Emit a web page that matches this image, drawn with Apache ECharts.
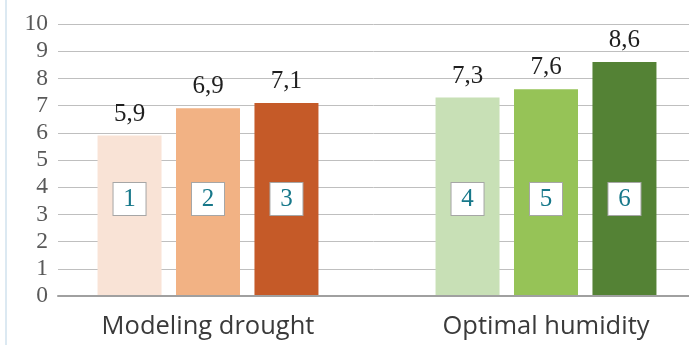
<!DOCTYPE html>
<html>
<head>
<meta charset="utf-8">
<script src="https://cdn.jsdelivr.net/npm/echarts@6/dist/echarts.min.js"></script>
<style>
  html, body { margin: 0; padding: 0; background: #fff; }
  #chart { width: 689px; height: 345px; }
</style>
</head>
<body>
<div id="chart"></div>
<script>
// Soil moisture treatments and the three samples measured in each
const categories = ['Modeling drought', 'Optimal humidity'];
const sampleA = [5.9, 7.3];
const sampleB = [6.9, 7.6];
const sampleC = [7.1, 8.6];
const sampleNumbers = [[1, 4], [2, 5], [3, 6]];
const sampleColors = [
  ['#F9E3D6', '#C8E0B6'],
  ['#F2B284', '#96C357'],
  ['#C55A28', '#548235']
];
const yTicks = { min: 0, max: 10, interval: 1 };

const seriesValues = [sampleA, sampleB, sampleC];
const fmt = v => String(v).replace('.', ',');

const chart = echarts.init(document.getElementById('chart'), null, { renderer: 'canvas' });

const plotTop = 24, plotBottom = 49;
const barGrid = { left: 39, width: 676, top: plotTop, bottom: plotBottom, outerBoundsMode: 'none', containLabel: false };

const barSeries = seriesValues.map((vals, s) => ({
  type: 'bar',
  xAxisIndex: 1, yAxisIndex: 1,
  barWidth: 64,
  barGap: '22.6%',
  data: vals.map((v, i) => ({ value: v, itemStyle: { color: sampleColors[s][i] } })),
  label: {
    show: true,
    position: 'insideBottom',
    distance: 97,
    formatter: p => String(sampleNumbers[s][p.dataIndex]),
    fontFamily: 'Liberation Serif',
    fontSize: 25,
    color: '#17788A',
    backgroundColor: '#fff',
    borderColor: '#A6A6A6',
    borderWidth: 1,
    width: 32,
    height: 32,
    lineHeight: 32,
    align: 'center',
    verticalAlign: 'middle'
  },
  emphasis: { disabled: true },
  silent: true,
  z: 3
}));

const valueSeries = seriesValues.map(vals => ({
  type: 'bar',
  xAxisIndex: 2, yAxisIndex: 2,
  barWidth: 64,
  barGap: '22.6%',
  data: vals,
  itemStyle: { color: 'rgba(0,0,0,0)' },
  label: {
    show: true,
    position: 'top',
    distance: 9,
    formatter: p => fmt(p.value),
    fontFamily: 'Liberation Serif',
    fontSize: 25,
    color: '#1F1F1F'
  },
  emphasis: { disabled: true },
  silent: true,
  z: 4
}));

const hiddenValueAxis = gi => ({
  type: 'value', gridIndex: gi, min: yTicks.min, max: yTicks.max, interval: yTicks.interval,
  axisLabel: { show: false }, splitLine: { show: false }, axisLine: { show: false }, axisTick: { show: false }
});

chart.setOption({
  animation: false,
  grid: [
    { left: 58, right: 0, top: plotTop, bottom: plotBottom, outerBoundsMode: 'none', containLabel: false },
    barGrid,
    barGrid
  ],
  xAxis: [
    {
      type: 'category', gridIndex: 0, data: categories,
      axisLine: { show: true, lineStyle: { color: '#A0A0A0', width: 2 } },
      axisTick: { show: false }, axisLabel: { show: false }, z: 5
    },
    {
      type: 'category', gridIndex: 1, data: categories,
      axisLine: { show: false }, axisTick: { show: false },
      axisLabel: {
        show: true, margin: 18,
        fontFamily: 'Open Sans', fontSize: 25.5, color: '#3A3A3A'
      }
    },
    {
      type: 'category', gridIndex: 2, data: categories,
      axisLine: { show: false }, axisTick: { show: false }, axisLabel: { show: false }
    }
  ],
  yAxis: [
    {
      type: 'value', gridIndex: 0, min: yTicks.min, max: yTicks.max, interval: yTicks.interval,
      axisLine: { show: false }, axisTick: { show: false },
      axisLabel: { margin: 10, fontFamily: 'Liberation Serif', fontSize: 23.5, color: '#595959' },
      splitLine: { show: true, lineStyle: { color: '#BFBFBF', width: 1 } }
    },
    hiddenValueAxis(1),
    hiddenValueAxis(2)
  ],
  graphic: [
    {
      type: 'rect', left: 5, top: 0,
      shape: { width: 2, height: 345 },
      style: { fill: '#DCE9F2' }, silent: true
    }
  ],
  series: [...barSeries, ...valueSeries]
});
</script>
</body>
</html>
